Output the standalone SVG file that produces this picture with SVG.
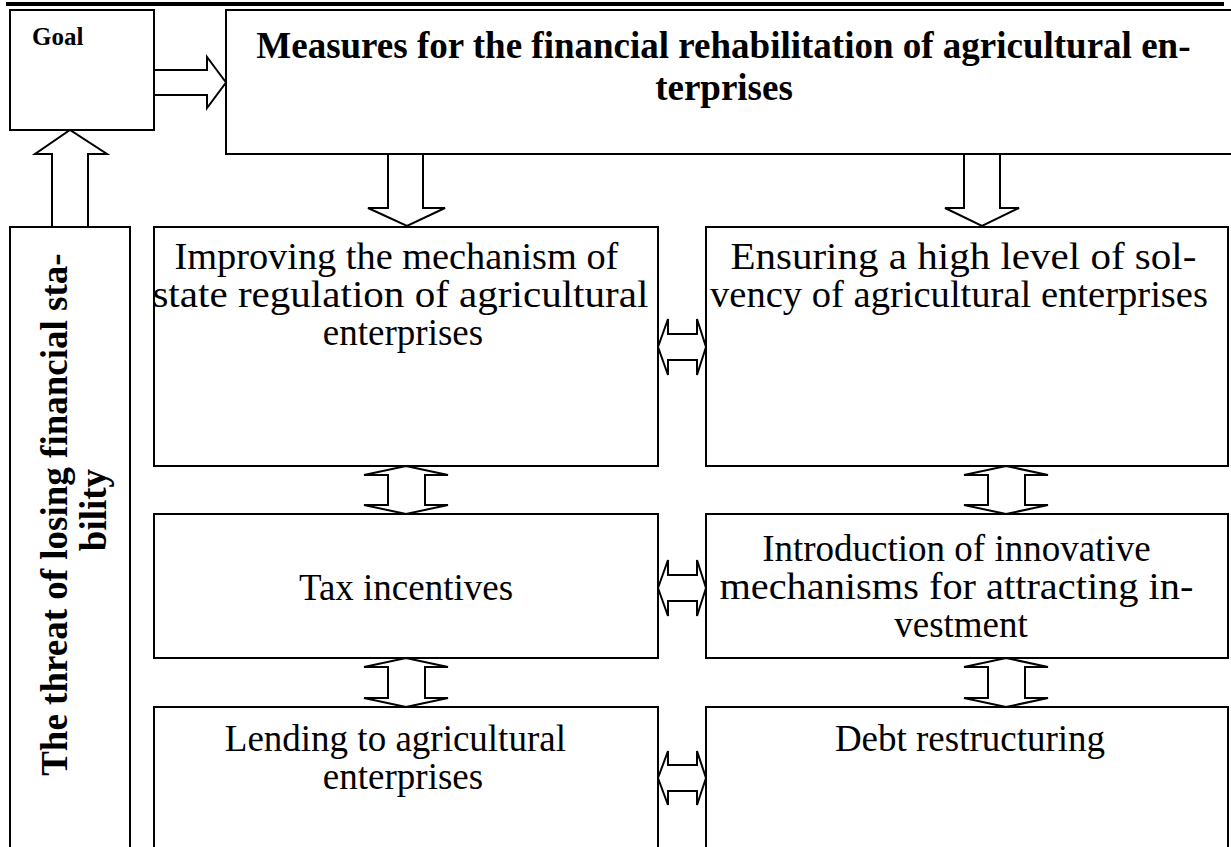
<svg xmlns="http://www.w3.org/2000/svg" width="1231" height="847" viewBox="0 0 1231 847">
  <style>
    .box { fill: #ffffff; stroke: #000000; stroke-width: 2; }
    .arrow { fill: #ffffff; stroke: #000000; stroke-width: 2; stroke-linejoin: miter; }
    .bold { font-family: "Liberation Serif", "Times New Roman", serif; font-weight: bold; fill: #000000; }
    .body { font-family: "Liberation Serif", "Times New Roman", serif; font-size: 37px; fill: #000000; text-anchor: middle; }
  </style>
  <rect width="1231" height="847" fill="#ffffff"/>
  <!-- heavy rule along the top of the page -->
  <line x1="6" y1="4" x2="1224" y2="4" stroke="#000000" stroke-width="4"/>

  <g id="goal">
    <rect class="box" x="10" y="10" width="144" height="120"/>
    <text class="bold" x="32" y="45" font-size="25">Goal</text>
  </g>

  <g id="measures">
    <rect class="box" x="226" y="10" width="1012" height="144"/>
    <text class="bold" font-size="37" text-anchor="middle">
      <tspan x="728" y="58">Measures for the financial rehabilitation of agricultural en-</tspan>
      <tspan x="724" y="100">terprises</tspan>
    </text>
  </g>

  <g id="threat">
    <rect class="box" x="10" y="227" width="120" height="640"/>
    <text class="bold" font-size="37" text-anchor="middle" transform="translate(67,510) rotate(-90)">
      <tspan x="0" y="0">The threat of losing financial sta-</tspan>
      <tspan x="0" y="39">bility</tspan>
    </text>
  </g>

  <!-- the longer lines are set slightly wide to fill their boxes -->
  <g id="state-regulation">
    <rect class="box" x="154" y="227" width="504" height="239"/>
    <text class="body">
      <tspan x="401" y="269" textLength="444" lengthAdjust="spacingAndGlyphs">Improving the mechanism of</tspan>
      <tspan x="405" y="307" textLength="496" lengthAdjust="spacingAndGlyphs">state regulation of agricultural</tspan>
      <tspan x="403" y="345">enterprises</tspan>
    </text>
  </g>

  <g id="solvency">
    <rect class="box" x="706" y="227" width="522" height="239"/>
    <text class="body">
      <tspan x="968" y="269" textLength="466" lengthAdjust="spacingAndGlyphs">Ensuring a high level of sol-</tspan>
      <tspan x="959" y="307" textLength="498" lengthAdjust="spacingAndGlyphs">vency of agricultural enterprises</tspan>
    </text>
  </g>

  <g id="tax-incentives">
    <rect class="box" x="154" y="514" width="504" height="144"/>
    <text class="body" x="406" y="600">Tax incentives</text>
  </g>

  <g id="investment">
    <rect class="box" x="706" y="514" width="522" height="144"/>
    <text class="body">
      <tspan x="961" y="561">Introduction of innovative</tspan>
      <tspan x="961" y="599" textLength="474" lengthAdjust="spacingAndGlyphs">mechanisms for attracting in-</tspan>
      <tspan x="961" y="637">vestment</tspan>
    </text>
  </g>

  <g id="lending">
    <rect class="box" x="154" y="707" width="504" height="160"/>
    <text class="body">
      <tspan x="400" y="751">Lending to agricultural</tspan>
      <tspan x="403" y="789">enterprises</tspan>
    </text>
  </g>

  <g id="debt">
    <rect class="box" x="706" y="707" width="522" height="160"/>
    <text class="body" x="970" y="751">Debt restructuring</text>
  </g>

  <g id="connectors">
    <!-- goal -> measures -->
    <polygon class="arrow" points="154,70 207,70 207,57 226,82.5 207,108 207,95 154,95"/>
    <!-- threat -> goal -->
    <polygon class="arrow" points="52,227 52,154 35,154 70,130 107,154 88,154 88,227"/>
    <!-- measures -> first row -->
    <polygon class="arrow" points="388,154 388,208 368,208 407,226 445,208 423,208 423,154"/>
    <polygon class="arrow" points="964,154 964,208 945,208 982,226 1019,208 1000,208 1000,154"/>
    <!-- two-way links between the columns -->
    <polygon class="arrow" points="658,347 668,319 668,334 697,334 697,319 706,347 697,375 697,360 668,360 668,375"/>
    <polygon class="arrow" points="658,588 668,560 668,575 697,575 697,560 706,588 697,616 697,601 668,601 668,616"/>
    <polygon class="arrow" points="658,778 668,751 668,765 697,765 697,751 706,778 697,805 697,791 668,791 668,805"/>
    <!-- two-way links between the rows, left column -->
    <polygon class="arrow" points="406,466 448,475 425,475 425,505 448,505 406,514 364,505 388,505 388,475 364,475"/>
    <polygon class="arrow" points="406,658 448,667 425,667 425,698 448,698 406,707 364,698 388,698 388,667 364,667"/>
    <!-- two-way links between the rows, right column -->
    <polygon class="arrow" points="1006,466 1048,475 1025,475 1025,505 1048,505 1006,514 964,505 988,505 988,475 964,475"/>
    <polygon class="arrow" points="1006,658 1048,667 1025,667 1025,698 1048,698 1006,707 964,698 988,698 988,667 964,667"/>
  </g>
</svg>
